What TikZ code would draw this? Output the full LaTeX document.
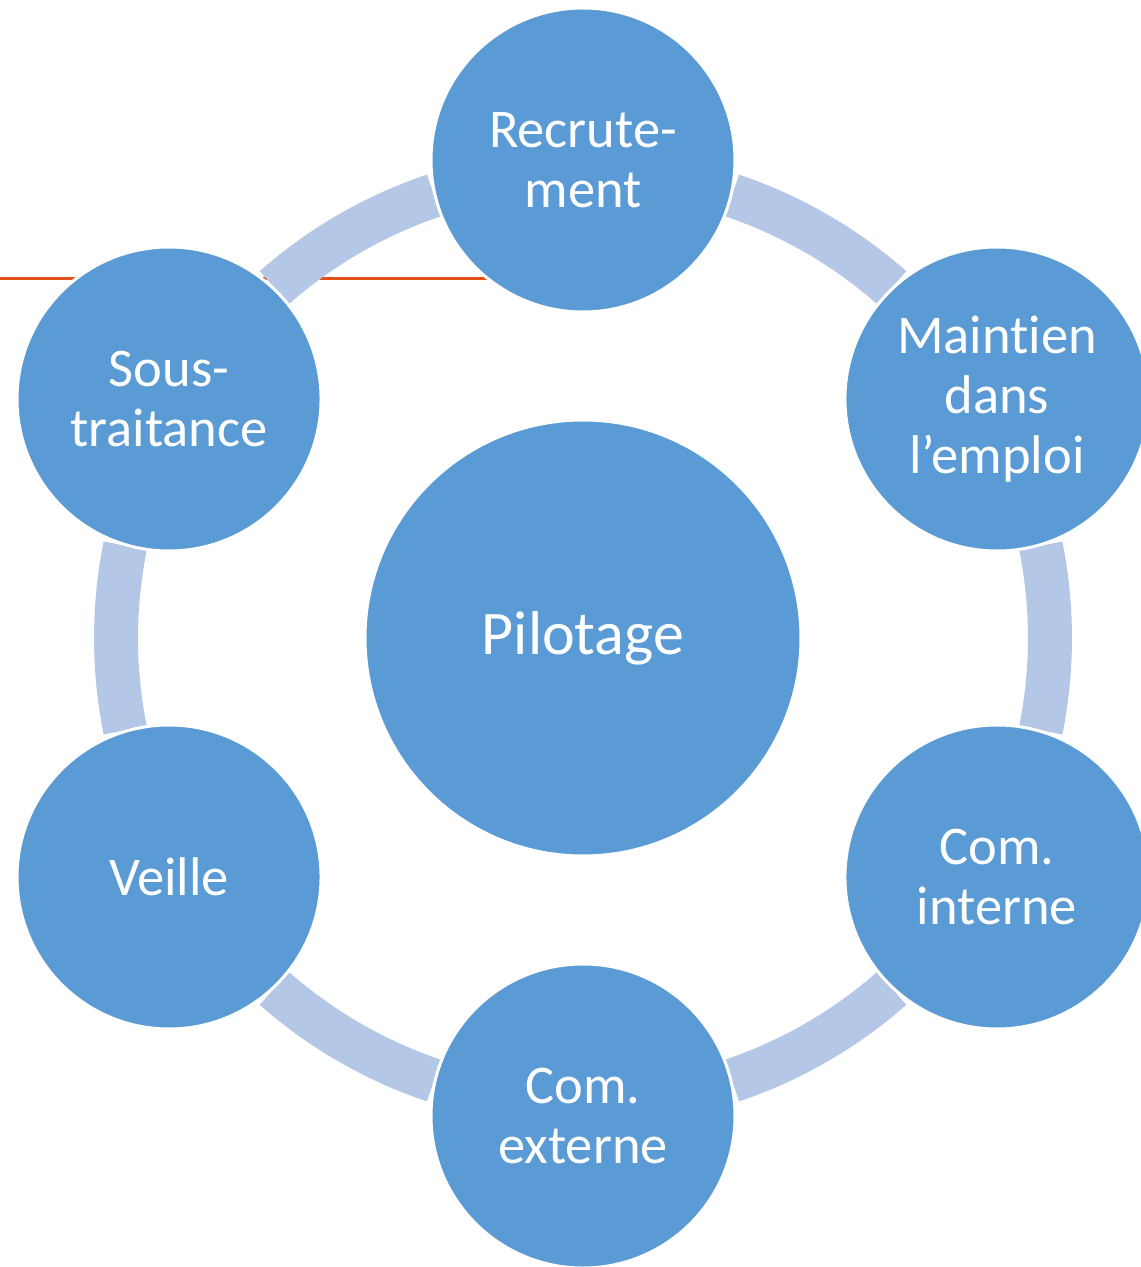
\documentclass[tikz,border=0pt]{standalone}
\usepackage{fontspec}
\setmainfont{Carlito}[Ligatures=NoCommon]
\usetikzlibrary{backgrounds}
\definecolor{cycblue}{HTML}{5B9BD5}
\definecolor{cycband}{HTML}{B4C7E7}
\definecolor{cycred}{HTML}{E8501A}

\begin{document}
\begin{tikzpicture}
  [x=1pt,y=1pt,every node/.style={circle,fill=cycblue,draw=white,line width=3pt,text=white,
   align=center,inner sep=0pt,minimum size=304pt,font=\fontsize{54.5}{60}\selectfont}]
  \useasboundingbox (-583,-629) rectangle (558,638);
  \node [minimum size=436pt,font=\fontsize{62}{70}\selectfont] (pil) at (0,0) {Pilotage};
  \node (rec) at (90:478)   {Recrute-\\ment};
  \node (mai) at (30:478)   {Maintien\\dans\\l’emploi};
  \node (cin) at (-30:478)  {Com.\\interne};
  \node (cex) at (-90:478)  {Com.\\externe};
  \node (vei) at (-150:478) {Veille};
  \node (sou) at (150:478)  {Sous-\\traitance};

  \begin{scope}[on background layer]
    \coordinate (lstart) at (-583,359);
    \draw [cycred,line width=3pt] (lstart) -- (lstart -| rec);
    \foreach \a in {90,30,-30,-90,-150,150}
      \draw [cycband,line width=44pt] (pil.center) ++({\a+18.6}:467)
        arc [start angle={\a+18.6}, end angle={\a+41.4}, radius=467];
  \end{scope}
\end{tikzpicture}
\end{document}
